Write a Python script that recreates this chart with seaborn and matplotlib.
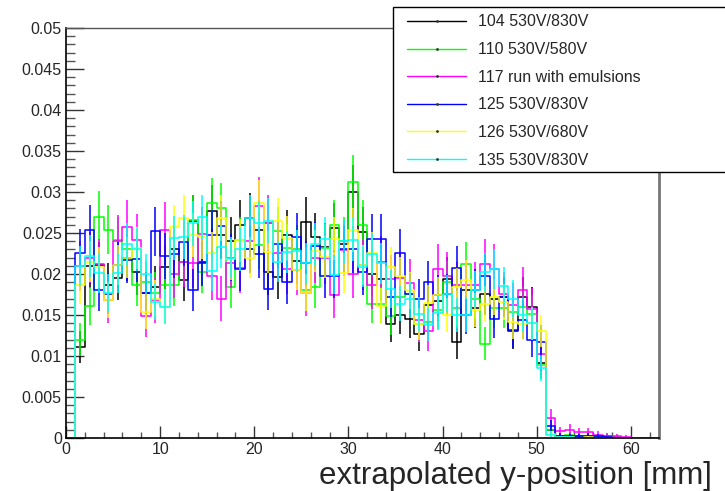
import numpy as np
import pandas as pd
import matplotlib
matplotlib.use("Agg")
import matplotlib.pyplot as plt
from matplotlib.lines import Line2D
from matplotlib.patches import Rectangle
from matplotlib.ticker import MultipleLocator, FuncFormatter
import seaborn as sns

# ---------------- data (bin contents, 1 mm bins from 0 to 63 mm) ----------------
bin_edges = list(range(0, 64))

run104 = [0, 0.0111, 0.0210, 0.0211, 0.0187, 0.0195, 0.0220, 0.0202, 0.0177, 0.0184,
          0.0208, 0.0230, 0.0193, 0.0265, 0.0215, 0.0277, 0.0248, 0.0240, 0.0260, 0.0268,
          0.0254, 0.0202, 0.0196, 0.0248, 0.0216, 0.0263, 0.0245, 0.0233, 0.0256, 0.0236,
          0.0300, 0.0251, 0.0200, 0.0194, 0.0139, 0.0150, 0.0145, 0.0127, 0.0162, 0.0167,
          0.0194, 0.0117, 0.0180, 0.0158, 0.0175, 0.0170, 0.0172, 0.0130, 0.0172, 0.0160,
          0.0092, 0.0010, 0.0002, 0.0003, 0.0002, 0.0002, 0.0001, 0.0002, 0.0001, 0,
          0, 0, 0]
run110 = [0, 0.0120, 0.0161, 0.0270, 0.0254, 0.0241, 0.0230, 0.0186, 0.0190, 0.0177,
          0.0186, 0.0186, 0.0215, 0.0266, 0.0203, 0.0286, 0.0280, 0.0184, 0.0241, 0.0230,
          0.0235, 0.0262, 0.0252, 0.0232, 0.0231, 0.0180, 0.0184, 0.0232, 0.0260, 0.0240,
          0.0312, 0.0260, 0.0164, 0.0164, 0.0149, 0.0172, 0.0176, 0.0139, 0.0142, 0.0156,
          0.0190, 0.0158, 0.0212, 0.0170, 0.0115, 0.0158, 0.0158, 0.0154, 0.0160, 0.0151,
          0.0089, 0.0010, 0.0002, 0.0004, 0.0003, 0.0003, 0.0002, 0.0002, 0.0001, 0,
          0, 0, 0]
run117 = [0, 0.0210, 0.0220, 0.0212, 0.0168, 0.0240, 0.0257, 0.0241, 0.0149, 0.0168,
          0.0254, 0.0200, 0.0215, 0.0214, 0.0249, 0.0198, 0.0170, 0.0214, 0.0207, 0.0240,
          0.0283, 0.0262, 0.0225, 0.0206, 0.0205, 0.0177, 0.0220, 0.0219, 0.0174, 0.0229,
          0.0200, 0.0211, 0.0186, 0.0215, 0.0194, 0.0195, 0.0189, 0.0144, 0.0130, 0.0206,
          0.0197, 0.0186, 0.0186, 0.0186, 0.0212, 0.0206, 0.0175, 0.0162, 0.0180, 0.0157,
          0.0102, 0.0025, 0.0008, 0.0010, 0.0007, 0.0007, 0.0004, 0.0003, 0.0002, 0.0001,
          0, 0, 0]
run125 = [0, 0.0226, 0.0254, 0.0181, 0.0176, 0.0211, 0.0217, 0.0218, 0.0177, 0.0252,
          0.0222, 0.0224, 0.0239, 0.0180, 0.0213, 0.0248, 0.0258, 0.0220, 0.0206, 0.0230,
          0.0224, 0.0182, 0.0236, 0.0190, 0.0245, 0.0213, 0.0234, 0.0198, 0.0198, 0.0230,
          0.0230, 0.0202, 0.0243, 0.0243, 0.0172, 0.0226, 0.0176, 0.0169, 0.0190, 0.0174,
          0.0175, 0.0207, 0.0150, 0.0180, 0.0198, 0.0145, 0.0172, 0.0132, 0.0144, 0.0119,
          0.0117, 0.0015, 0.0003, 0.0002, 0.0002, 0.0003, 0.0002, 0.0001, 0, 0,
          0, 0, 0]
run126 = [0, 0.0186, 0.0215, 0.0208, 0.0168, 0.0211, 0.0220, 0.0232, 0.0154, 0.0170,
          0.0160, 0.0257, 0.0268, 0.0248, 0.0245, 0.0226, 0.0268, 0.0218, 0.0241, 0.0220,
          0.0286, 0.0227, 0.0265, 0.0244, 0.0205, 0.0177, 0.0228, 0.0221, 0.0243, 0.0201,
          0.0254, 0.0211, 0.0226, 0.0161, 0.0208, 0.0197, 0.0180, 0.0139, 0.0165, 0.0174,
          0.0150, 0.0184, 0.0193, 0.0156, 0.0164, 0.0172, 0.0166, 0.0141, 0.0139, 0.0140,
          0.0131, 0.0005, 0.0001, 0.0001, 0, 0.0001, 0, 0, 0, 0,
          0, 0, 0]
run135 = [0, 0.0210, 0.0222, 0.0201, 0.0177, 0.0201, 0.0236, 0.0230, 0.0200, 0.0166,
          0.0160, 0.0244, 0.0245, 0.0262, 0.0269, 0.0204, 0.0233, 0.0220, 0.0230, 0.0268,
          0.0262, 0.0265, 0.0215, 0.0227, 0.0228, 0.0213, 0.0236, 0.0243, 0.0199, 0.0240,
          0.0242, 0.0209, 0.0224, 0.0213, 0.0182, 0.0164, 0.0169, 0.0151, 0.0138, 0.0153,
          0.0176, 0.0150, 0.0150, 0.0181, 0.0202, 0.0206, 0.0185, 0.0170, 0.0150, 0.0140,
          0.0085, 0.0004, 0.0001, 0.0001, 0, 0, 0, 0, 0, 0,
          0, 0, 0]

labels = ["104 530V/830V", "110 530V/580V", "117 run with emulsions",
          "125 530V/830V", "126 530V/680V", "135 530V/830V"]
# per-run statistical error scale (err = scale * sqrt(content))
err_scale = [0.019, 0.0187, 0.021, 0.019, 0.017, 0.017]

y_ticks = [0, 0.005, 0.01, 0.015, 0.02, 0.025, 0.03, 0.035, 0.04, 0.045, 0.05]
x_ticks = [0, 10, 20, 30, 40, 50, 60]
xlabel = "extrapolated y-position [mm]"

colors = ["#000000", "#00ff00", "#ff00ff", "#0000ff", "#ffff00", "#00ffff"]
series = [run104, run110, run117, run125, run126, run135]

# ---------------- figure ----------------
sns.set_theme(style="white")
plt.rcParams["font.family"] = ["Liberation Sans", "DejaVu Sans"]

W, H = 725, 491
fig = plt.figure(figsize=(W / 100, H / 100), dpi=100)
ax = fig.add_axes([66 / W, 1 - 438 / H, (659 - 66) / W, (438 - 28) / H])

edges = np.array(bin_edges, dtype=float)
centers = (edges[:-1] + edges[1:]) / 2

for vals, col, lab, es in zip(series, colors, labels, err_scale):
    df = pd.DataFrame({"y": centers, "w": vals})
    sns.histplot(data=df, x="y", weights="w", binwidth=1.0,
                 binrange=(bin_edges[0], bin_edges[-1]), element="step",
                 fill=False, color=col, linewidth=1.1, ax=ax, label=lab)
    v = np.array(vals)
    m = v > 0
    ax.errorbar(centers[m], v[m], yerr=es * np.sqrt(v[m]), fmt="none",
                ecolor=col, elinewidth=1.1, capsize=0)

ax.set_xlim(0, 63)
ax.set_ylim(0, 0.05)
ax.set_xticks(x_ticks)
ax.set_yticks(y_ticks)
ax.yaxis.set_major_formatter(FuncFormatter(lambda v, p: "0" if v == 0 else f"{v:g}"))
ax.xaxis.set_minor_locator(MultipleLocator(2))
ax.yaxis.set_minor_locator(MultipleLocator(0.001))
ax.tick_params(axis="y", which="major", direction="in", length=13, width=1,
               color="#333333", labelsize=11.5, pad=3, left=True, right=False)
ax.tick_params(axis="y", which="minor", direction="in", length=6.5, width=1,
               color="#555555", left=True, right=False)
ax.tick_params(axis="x", which="major", direction="in", length=8.5, width=1,
               color="#333333", labelsize=11.5, pad=3, bottom=True, top=False)
ax.tick_params(axis="x", which="minor", direction="in", length=4.3, width=1,
               color="#555555", bottom=True, top=False)
ax.set_xlabel("")
ax.set_ylabel("")

for s in ["left", "bottom"]:
    ax.spines[s].set_color("black")
    ax.spines[s].set_linewidth(1.2)
ax.spines["top"].set_color("#555555")
ax.spines["top"].set_linewidth(1.0)
ax.spines["right"].set_color("#777777")
ax.spines["right"].set_linewidth(2.0)

fig.text(712 / W, 1 - 476 / H, xlabel, ha="right", va="center", fontsize=22.5)

# legend box extending past the right edge
fig.patches.append(Rectangle((393 / W, 1 - 172 / H), (740 - 393) / W, (172 - 7) / H,
                             transform=fig.transFigure, facecolor="white",
                             edgecolor="black", linewidth=1.0, zorder=5))
handles = [Line2D([], [], color=c, lw=1.0, marker="o", markersize=1.0,
                  markerfacecolor="#333333", markeredgecolor="#333333") for c in colors]
leg = fig.legend(handles, labels, loc="upper left",
                 bbox_to_anchor=(399 / W, 1 - 6.5 / H), frameon=False,
                 fontsize=11.5, handlelength=3.7, handletextpad=0.75,
                 labelspacing=0.79, numpoints=1, borderpad=0.0)
leg.set_zorder(6)

fig.savefig("out.png", dpi=100)
